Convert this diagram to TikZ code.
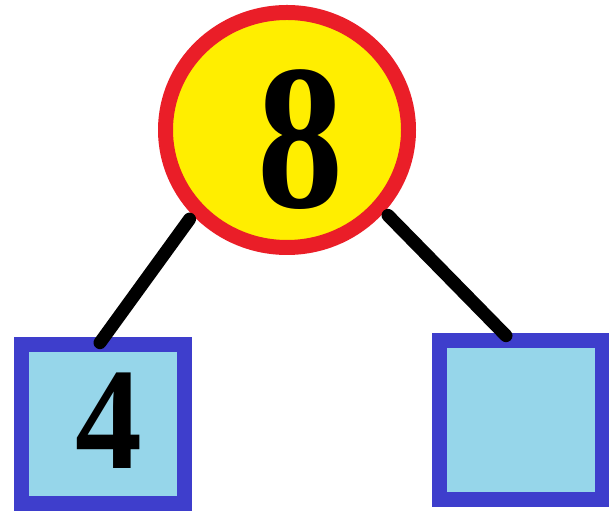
\documentclass[tikz,border=0pt]{standalone}
\usepackage{fontspec}
\setmainfont{Liberation Serif}
\usepackage{tikz}
\usetikzlibrary{positioning,shapes.geometric}
\definecolor{rootcol}{RGB}{255,238,0}
\definecolor{ringcol}{RGB}{234,30,40}
\definecolor{leafcol}{RGB}{150,214,234}
\definecolor{edgecol}{RGB}{62,62,204}

\begin{document}
\begin{tikzpicture}[
  root/.style={ellipse,draw=ringcol,fill=rootcol,line width=0.45cm,minimum width=7.29cm,minimum height=7.05cm,inner sep=0pt},
  leaf/.style={rectangle,draw=edgecol,fill=leafcol,line width=0.45cm,minimum width=4.9cm,minimum height=4.77cm,inner sep=0pt},
  digit/.style={font=\fontsize{177}{177}\selectfont\bfseries,inner sep=0pt},
  branch/.style={line width=0.39cm,line cap=round,shorten <=0.15cm},
]
\useasboundingbox (0,0) rectangle (18.27,15.39);
% --- number bond: whole and two parts ---
\node[root,label={[digit,shift={(0.42,-0.3)}]center:\scalebox{0.83}[1]{8}}] (whole) at (8.61,11.49) {};
\node[leaf,label={[digit,font=\fontsize{124}{124}\selectfont\bfseries,shift={(0.18,0.1)}]center:\scalebox{0.92}[1]{4}}] (partA) at (3.08,2.68) {};
\node[leaf] (partB) at (15.63,2.8) {};
\draw[branch] (whole.222) -- ([shift={(-0.08,-0.18)}]partA.north);
\draw[branch] (whole.320) -- ([shift={(-0.45,-0.09)}]partB.north);
\end{tikzpicture}
\end{document}
